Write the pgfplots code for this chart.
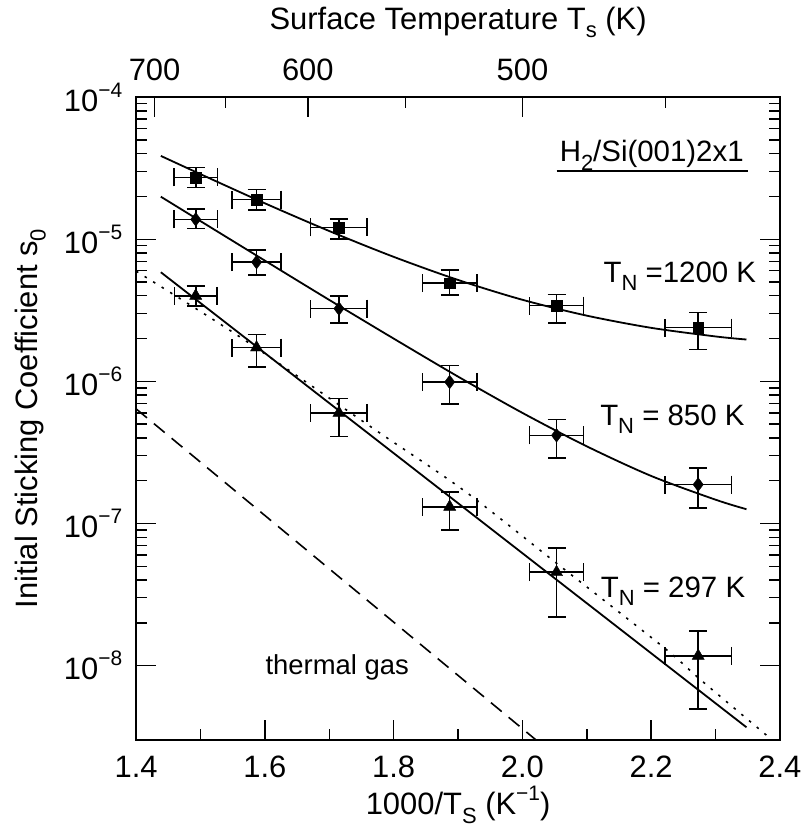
\documentclass[border=0pt]{standalone}
\usepackage{fontspec}
\setmainfont{Liberation Sans}
\usepackage{pgfplots}
\usepackage{pgfplotstable}
\pgfplotsset{compat=1.18}
\newcommand\bigf{\fontsize{29.5}{34}\selectfont}
\newcommand\lblf{\fontsize{31}{36}\selectfont}
\newcommand\sups[1]{\raisebox{0.45em}{\fontsize{21}{22}\selectfont #1}}
\newcommand\subs[1]{\raisebox{-0.28em}{\fontsize{22}{22}\selectfont #1}}

\pgfplotstableread{
x y ex eyp eym
1.4925 2.72e-5 0.034 0.48e-5 0.41e-5
1.587 1.90e-5 0.038 0.34e-5 0.30e-5
1.715 1.21e-5 0.044 0.18e-5 0.21e-5
1.887 4.92e-6 0.042 1.13e-6 0.88e-6
2.053 3.41e-6 0.042 0.67e-6 0.83e-6
2.273 2.39e-6 0.0515 0.67e-6 0.71e-6
}\sqdata
\pgfplotstableread{
x y ex eyp eym
1.4925 1.38e-5 0.034 0.26e-5 0.19e-5
1.587 6.9e-6 0.038 1.5e-6 1.3e-6
1.715 3.25e-6 0.044 0.75e-6 0.67e-6
1.887 9.9e-7 0.042 3.0e-7 2.94e-7
2.053 4.17e-7 0.042 1.23e-7 1.27e-7
2.273 1.88e-7 0.0515 0.57e-7 0.59e-7
}\didata
\pgfplotstableread{
x y ex eyp eym
1.4925 4.0e-6 0.033 0.67e-6 0.61e-6
1.587 1.73e-6 0.038 0.40e-6 0.47e-6
1.715 6.0e-7 0.044 1.6e-7 1.9e-7
1.887 1.31e-7 0.042 0.35e-7 0.41e-7
2.053 4.54e-8 0.042 2.16e-8 2.34e-8
2.273 1.17e-8 0.0515 0.59e-8 0.674e-8
}\trdata

\begin{document}
\bigf
\begin{tikzpicture}
\begin{axis}[
  at={(0,0)}, anchor=south west,
  scale only axis, width=643bp, height=642bp,
  xmin=1.4, xmax=2.4, ymode=log, ymin=3e-9, ymax=1e-4,
  xtick={1.4,1.6,1.8,2.0,2.2,2.4},
  xticklabels={1.4,1.6,1.8,2.0,2.2,2.4},
  minor xtick={1.5,1.7,1.9,2.1,2.3},
  ytick={1e-8,1e-7,1e-6,1e-5,1e-4},
  yticklabels={10\sups{−8},10\sups{−7},10\sups{−6},10\sups{−5},10\sups{−4}},
  xtick pos=left, ytick pos=both,
  tick align=inside,
  major tick length=20bp, minor tick length=11bp,
  every tick/.style={black, line width=1.4bp},
  every minor tick/.style={black, line width=1.4bp},
  axis line style={line width=2.6bp},
  every tick label/.append style={font=\lblf},
  xticklabel style={yshift=-6bp},
  yticklabel style={xshift=-4bp},
  xlabel={1000/T\subs{S} (K\sups{−1})},
  xlabel style={font=\lblf, at={(axis description cs:0.5,-0.116)}, anchor=base},
  ylabel={Initial Sticking Coefficient s\subs{0}},
  ylabel style={font=\lblf, at={(axis description cs:-0.154,0.5)}, anchor=base, rotate=0},
  title={Surface Temperature T\subs{s} (K)},
  title style={font=\lblf, at={(axis description cs:0.5,1.0966)}, anchor=base},
  clip=true,
  error bars/error bar style={line width=1.6bp, black},
  error bars/error mark options={rotate=90, line width=1.6bp, black, mark size=9bp},
]
% fitted curves
\addplot[black, line width=1.8bp, smooth] coordinates {
(1.4383,3.86e-5) (1.5,2.87e-5) (1.6,1.79e-5) (1.7,1.142e-5) (1.8,7.52e-6) (1.9,5.17e-6) (2.0,3.75e-6) (2.1,2.90e-6) (2.2,2.38e-6) (2.3,2.07e-6) (2.348,1.97e-6)};
\addplot[black, line width=1.8bp, smooth] coordinates {
(1.4383,1.993e-5) (1.5,1.341e-5) (1.6,7.07e-6) (1.7,3.74e-6) (1.8,2.0e-6) (1.9,1.08e-6) (2.0,6.0e-7) (2.1,3.49e-7) (2.2,2.16e-7) (2.3,1.47e-7) (2.348,1.26e-7)};
\addplot[black, line width=1.8bp] coordinates {(1.4383,5.86e-6) (2.348,3.68e-9)};
% dotted
\addplot[black, line width=1.6bp, dash pattern=on 2.5bp off 7.5bp, smooth] coordinates {
(1.4,5.96e-6) (1.5615,2.05e-6) (1.7686,4.65e-7) (1.9088,1.71e-7) (2.053,5.25e-8) (2.2188,1.35e-8) (2.2784,7.83e-9) (2.387,3.02e-9)};
% dashed thermal gas
\addplot[black, line width=1.6bp, dash pattern=on 14bp off 9bp] coordinates {(1.4,6.4e-7) (2.021,3.0e-9)};
% data
\addplot[black, only marks, mark=square*, mark size=5.3bp,
  error bars/.cd, x dir=both, x explicit, y dir=both, y explicit]
  table[x=x, y=y, x error=ex, y error plus=eyp, y error minus=eym] {\sqdata};
\addplot[black, only marks, mark=diamond*, mark size=6.8bp,
  error bars/.cd, x dir=both, x explicit, y dir=both, y explicit]
  table[x=x, y=y, x error=ex, y error plus=eyp, y error minus=eym] {\didata};
\addplot[black, only marks, mark=triangle*, mark size=7bp,
  error bars/.cd, x dir=both, x explicit, y dir=both, y explicit]
  table[x=x, y=y, x error=ex, y error plus=eyp, y error minus=eym] {\trdata};
% labels
\node[anchor=base west, font=\bigf, inner sep=0] at (axis cs:2.1258,5.0e-6) {T\subs{N} =1200 K};
\node[anchor=base west, font=\bigf, inner sep=0] at (axis cs:2.1206,4.9e-7) {T\subs{N} = 850 K};
\node[anchor=base west, font=\bigf, inner sep=0] at (axis cs:2.1216,3.03e-8) {T\subs{N} = 297 K};
\node[anchor=base west, font=\fontsize{27.5}{32}\selectfont, inner sep=0] at (axis cs:1.6006,8.6e-9) {thermal gas};
\node[anchor=base east, font=\bigf, inner sep=0] at (axis cs:2.344,3.5e-5) {H\subs{2}/Si(001)2x1};
\draw[line width=1.4bp] (axis cs:2.0532,3.03e-5) -- (axis cs:2.350,3.03e-5);
\end{axis}
\begin{axis}[
  at={(0,0)}, anchor=south west,
  scale only axis, width=643bp, height=642bp,
  xmin=1.4, xmax=2.4, ymin=0, ymax=1,
  axis x line*=top, axis y line=none,
  xtick={1.428571,1.666667,2.0},
  xticklabels={700,600,500},
  minor xtick={1.538462,1.818182,2.222222},
  tick align=inside,
  major tick length=20bp, minor tick length=11bp,
  every tick/.style={black, line width=1.4bp},
  every minor tick/.style={black, line width=1.4bp},
  axis line style={line width=2.6bp},
  every tick label/.append style={font=\lblf},
  xticklabel style={yshift=6bp},
]
\end{axis}
\pgfresetboundingbox
\path[use as bounding box] (-136bp,-89bp) rectangle (665bp,739bp);
\end{tikzpicture}
\end{document}
